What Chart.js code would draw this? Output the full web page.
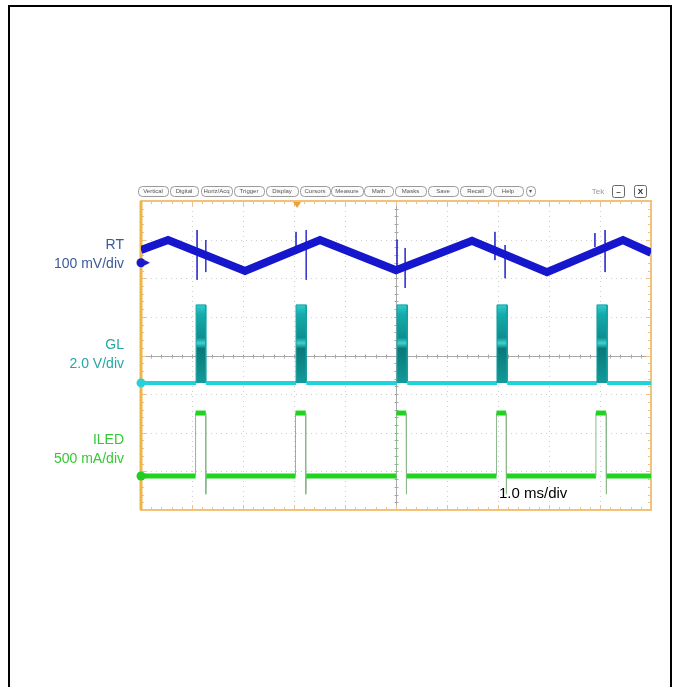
<!DOCTYPE html>
<html>
<head>
<meta charset="utf-8">
<script src="https://cdn.jsdelivr.net/npm/chart.js@4.4.1/dist/chart.umd.min.js"></script>
<style>
  body { margin: 0; background: #fff; overflow: hidden; }
  #wrap { position: relative; width: 676px; height: 687px; }
  #box { position: absolute; left: 8px; top: 5px; width: 660px; height: 700px;
         border: 2px solid #000; border-bottom: none; }
  canvas { position: absolute; left: 0; top: 0; }
  .lbl { position: absolute; left: 0; width: 124px; text-align: right;
         font-family: "Liberation Sans", Arial, sans-serif; font-size: 14px; line-height: 19px; }
  #tdiv { position: absolute; left: 499px; top: 484px; font-family: "Liberation Sans", Arial, sans-serif;
          font-size: 15px; color: #000; }
</style>
</head>
<body>
<div id="wrap">
  <div id="box"></div>
  <canvas id="scope" width="676" height="687"></canvas>
  <div class="lbl" style="top:235px;color:#3a5a98">RT<br>100 mV/div</div>
  <div class="lbl" style="top:335px;color:#26a6a8">GL<br>2.0 V/div</div>
  <div class="lbl" style="top:430px;color:#36c836">ILED<br>500 mA/div</div>
  <div id="tdiv">1.0 ms/div</div>
</div>
<script>
// time axis in divisions (1.0 ms/div), amplitude in screen divisions
const rtX = [0, 0.53, 2.04, 3.51, 5.0, 6.49, 7.96, 9.45, 10];
const rtY = [2.73, 2.99, 2.19, 2.99, 2.21, 2.97, 2.16, 2.99, 2.66];

const spikeX = [1.10, 1.27, 3.04, 3.24, 5.02, 5.18, 6.94, 7.14, 8.90, 9.10];
const spikeTop = [3.25, 2.99, 3.20, 3.25, 3.0, 2.78, 3.20, 2.86, 3.17, 3.25];
const spikeBot = [1.96, 2.16, 2.73, 1.96, 2.2, 1.75, 2.47, 2.00, 2.81, 2.16];

const glRise = [1.08, 3.04, 5.02, 6.98, 8.94];
const glFall = [1.27, 3.24, 5.22, 7.18, 9.14];
const glLow = -0.71;
const glHigh = 1.31;

const ledRise = [1.07, 3.03, 5.01, 6.97, 8.92];
const ledFall = [1.27, 3.23, 5.20, 7.16, 9.12];
const ledLow = -3.12;
const ledHigh = -1.49;
const ledUnder = -3.59;

// ground markers (RT, GL, ILED) and trigger position
const markerLevels = [2.40, -0.71, -3.12];
const markerColors = ['#1a1ac8', '#2ad0d8', '#22cc22'];
const trigX = 3.06;

const toolbar = [
  ['Vertical', 138, 168], ['Digital', 170, 198], ['Horiz/Acq', 201, 232], ['Trigger', 234, 264],
  ['Display', 266, 298], ['Cursors', 300, 330], ['Measure', 331, 363], ['Math', 364, 393],
  ['Masks', 395, 426], ['Save', 428, 458], ['Recall', 460, 491], ['Help', 493, 523], ['\u25BE', 526, 535]
];

const rtPoints = rtX.map((x, i) => ({ x: x, y: rtY[i] }));

const spikePoints = [];
spikeX.forEach((x, i) => {
  spikePoints.push({ x: x, y: spikeTop[i] }, { x: x, y: spikeBot[i] }, { x: x, y: null });
});

const glPoints = [{ x: 0, y: glLow }];
glRise.forEach((r, i) => {
  glPoints.push({ x: r, y: glLow }, { x: r, y: glHigh }, { x: glFall[i], y: glHigh }, { x: glFall[i], y: glLow });
});
glPoints.push({ x: 10, y: glLow });

const ledPoints = [{ x: 0, y: ledLow }];
ledRise.forEach((r, i) => {
  ledPoints.push({ x: r, y: ledLow }, { x: r, y: ledHigh }, { x: ledFall[i], y: ledHigh },
    { x: ledFall[i], y: ledUnder }, { x: ledFall[i] + 0.01, y: ledLow });
});
ledPoints.push({ x: 10, y: ledLow });

function glFill(ctx) {
  const chart = ctx.chart;
  if (!chart.chartArea) return '#118f8f';
  const ys = chart.scales.y;
  const t = ys.getPixelForValue(glHigh), b = ys.getPixelForValue(glLow);
  const g = chart.ctx.createLinearGradient(0, t, 0, b);
  g.addColorStop(0, '#30cccc');
  g.addColorStop(0.12, '#16abab');
  g.addColorStop(0.42, '#0e8e8e');
  g.addColorStop(0.49, '#3fd2d2');
  g.addColorStop(0.56, '#0a7878');
  g.addColorStop(1, '#139a9a');
  return g;
}

const graticule = {
  id: 'graticule',
  beforeDatasetsDraw(chart) {
    const c = chart.ctx, xs = chart.scales.x, ys = chart.scales.y;
    const L = xs.getPixelForValue(0), R = xs.getPixelForValue(10);
    const T = ys.getPixelForValue(4), B = ys.getPixelForValue(-4);
    const cx = xs.getPixelForValue(5), cy = ys.getPixelForValue(0);
    c.save();
    // dotted division lines
    c.strokeStyle = '#cfcfcf';
    c.lineWidth = 1;
    c.setLineDash([1, 4]);
    for (let i = 1; i < 10; i++) {
      if (i === 5) continue;
      const x = Math.round(xs.getPixelForValue(i)) + 0.5;
      c.beginPath(); c.moveTo(x, T); c.lineTo(x, B); c.stroke();
    }
    for (let j = -3; j <= 3; j++) {
      if (j === 0) continue;
      const y = Math.round(ys.getPixelForValue(j)) + 0.5;
      c.beginPath(); c.moveTo(L, y); c.lineTo(R, y); c.stroke();
    }
    c.setLineDash([]);
    // centre cross with minor ticks
    c.strokeStyle = '#a8a8a8';
    const px = Math.round(cx) + 0.5, py = Math.round(cy) + 0.5;
    c.beginPath(); c.moveTo(px, T); c.lineTo(px, B); c.moveTo(L, py); c.lineTo(R, py); c.stroke();
    c.beginPath();
    for (let k = 1; k < 50; k++) {
      const x = Math.round(xs.getPixelForValue(k / 5)) + 0.5;
      c.moveTo(x, py - 2); c.lineTo(x, py + 2);
    }
    for (let k = -19; k < 20; k++) {
      const y = Math.round(ys.getPixelForValue(k / 5)) + 0.5;
      c.moveTo(px - 2, y); c.lineTo(px + 2, y);
    }
    c.stroke();
    // orange frame with edge ticks
    c.strokeStyle = '#f0c27c';
    c.lineWidth = 1;
    c.beginPath();
    for (let k = 1; k < 50; k++) {
      const x = Math.round(xs.getPixelForValue(k / 5)) + 0.5;
      const len = k % 5 === 0 ? 5 : 3;
      c.moveTo(x, T); c.lineTo(x, T + len);
      c.moveTo(x, B); c.lineTo(x, B - len);
    }
    for (let k = -19; k < 20; k++) {
      const y = Math.round(ys.getPixelForValue(k / 5)) + 0.5;
      const len = k % 5 === 0 ? 5 : 3;
      c.moveTo(L, y); c.lineTo(L + len, y);
      c.moveTo(R, y); c.lineTo(R - len, y);
    }
    c.stroke();
    c.lineWidth = 2;
    c.strokeRect(L, T, R - L, B - T);
    c.strokeStyle = '#efb548';
    c.lineWidth = 3;
    c.beginPath(); c.moveTo(L, T); c.lineTo(L, B); c.stroke();
    c.restore();
  },
  afterDatasetsDraw(chart) {
    const c = chart.ctx, xs = chart.scales.x, ys = chart.scales.y;
    const L = xs.getPixelForValue(0), T = ys.getPixelForValue(4);
    c.save();
    // trigger marker
    const tx = xs.getPixelForValue(trigX);
    c.fillStyle = '#f0a030';
    c.beginPath(); c.moveTo(tx - 4, T + 1); c.lineTo(tx + 4, T + 1); c.lineTo(tx, T + 7); c.closePath(); c.fill();
    // ground markers
    markerLevels.forEach((v, i) => {
      const y = ys.getPixelForValue(v);
      c.fillStyle = markerColors[i];
      c.beginPath(); c.arc(L, y, 4.5, 0, Math.PI * 2); c.fill();
      c.beginPath(); c.moveTo(L + 4, y - 2.5); c.lineTo(L + 9, y); c.lineTo(L + 4, y + 2.5); c.closePath(); c.fill();
    });
    // toolbar
    c.font = '6px "Liberation Sans", Arial, sans-serif';
    c.textAlign = 'center';
    c.textBaseline = 'middle';
    c.lineWidth = 1;
    toolbar.forEach(([t, a, b]) => {
      c.strokeStyle = '#9a9a9a';
      c.fillStyle = '#fbfbfb';
      c.beginPath();
      c.roundRect(a + 0.5, 186.5, b - a, 10, 4);
      c.fill(); c.stroke();
      c.fillStyle = '#555';
      c.fillText(t, (a + b) / 2, 191.5);
    });
    c.fillStyle = '#999';
    c.font = '8px "Liberation Sans", Arial, sans-serif';
    c.fillText('Tek', 598, 191.5);
    [[612, '\u2013'], [634, 'X']].forEach(([a, t]) => {
      c.strokeStyle = '#666';
      c.fillStyle = '#fff';
      c.beginPath(); c.roundRect(a + 0.5, 185.5, 12, 12, 2); c.fill(); c.stroke();
      c.fillStyle = '#222';
      c.font = 'bold 8px "Liberation Sans", Arial, sans-serif';
      c.fillText(t, a + 6.5, 192);
    });
    c.restore();
  }
};

new Chart(document.getElementById('scope'), {
  type: 'line',
  data: {
    datasets: [
      {
        label: 'GL',
        data: glPoints,
        borderColor: '#22d2da',
        borderWidth: 4,
        fill: { value: glLow },
        backgroundColor: glFill,
        segment: {
          borderColor: ctx => (ctx.p0.parsed.y > glLow + 0.1 || ctx.p1.parsed.y > glLow + 0.1) ? '#12a0a0' : undefined,
          borderWidth: ctx => (ctx.p0.parsed.y > glLow + 0.1 || ctx.p1.parsed.y > glLow + 0.1) ? 1 : undefined
        },
        pointRadius: 0,
        tension: 0
      },
      {
        label: 'ILED',
        data: ledPoints,
        borderColor: '#1ed41e',
        borderWidth: 5,
        fill: false,
        segment: {
          borderColor: ctx => Math.abs(ctx.p1.parsed.y - ctx.p0.parsed.y) > 0.1 ? '#8cb88c' : undefined,
          borderWidth: ctx => Math.abs(ctx.p1.parsed.y - ctx.p0.parsed.y) > 0.1 ? 1 : undefined
        },
        pointRadius: 0,
        borderCapStyle: 'butt',
        tension: 0
      },
      {
        label: 'RT',
        data: rtPoints,
        borderColor: '#1616cc',
        borderWidth: 8,
        borderJoinStyle: 'miter',
        fill: false,
        pointRadius: 0,
        tension: 0
      },
      {
        label: 'RT spikes',
        data: spikePoints,
        borderColor: '#3a3ad0',
        borderWidth: 1,
        spanGaps: false,
        fill: false,
        pointRadius: 0,
        tension: 0
      }
    ]
  },
  options: {
    responsive: false,
    animation: false,
    events: [],
    layout: { padding: { left: 141, right: 25, top: 201, bottom: 177 } },
    plugins: { legend: { display: false }, tooltip: { enabled: false } },
    scales: {
      x: { type: 'linear', min: 0, max: 10, display: false },
      y: { type: 'linear', min: -4, max: 4, display: false }
    }
  },
  plugins: [graticule]
});
</script>
</body>
</html>
